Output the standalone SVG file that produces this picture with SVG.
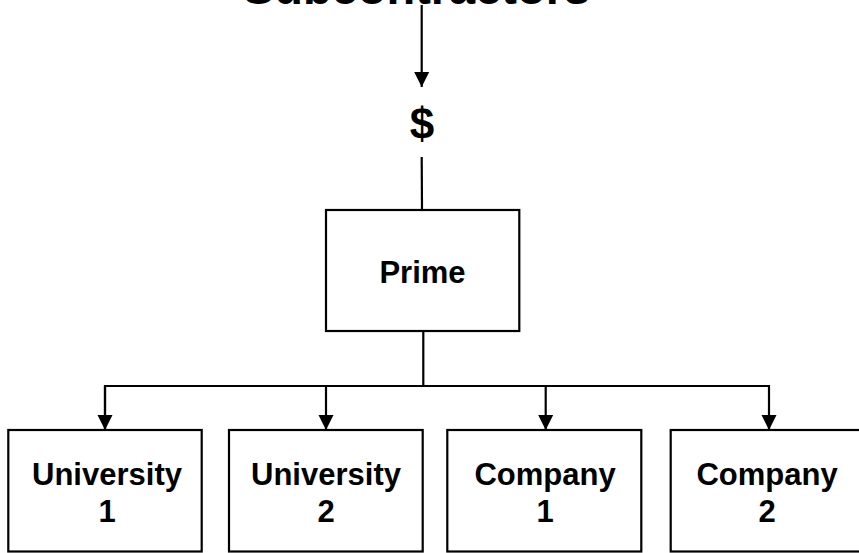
<svg xmlns="http://www.w3.org/2000/svg" width="859" height="553" viewBox="0 0 859 553">
  <style>
    .box { fill: #ffffff; stroke: #000000; stroke-width: 2.2; }
    .lbl { font-family: "Liberation Sans", Arial, sans-serif; font-weight: bold; fill: #000000; text-anchor: middle; }
    .wire { fill: none; stroke: #000000; stroke-width: 2.2; }
  </style>
  <defs>
    <marker id="arrow" markerUnits="userSpaceOnUse" markerWidth="16" markerHeight="16" viewBox="0 0 16 16" refX="15" refY="8" orient="auto">
      <path d="M0,0.5 L15,8 L0,15.5 Z" fill="#000000"/>
    </marker>
  </defs>

  <rect width="859" height="553" fill="#ffffff"/>

  <!-- heading, clipped by the top edge -->
  <text class="lbl" x="416.5" y="4" font-size="47">Subcontractors</text>

  <!-- funding symbol -->
  <text class="lbl" x="422" y="139" font-size="44">$</text>

  <g id="connectors">
    <line class="wire" x1="421.7" y1="5" x2="421.7" y2="87" marker-end="url(#arrow)"/>
    <line class="wire" x1="421.7" y1="157" x2="422" y2="210"/>
    <line class="wire" x1="423.3" y1="331" x2="423.3" y2="386"/>
    <polyline class="wire" points="105,430 105,386 769,386 769,430" marker-end="url(#arrow)"/>
    <line class="wire" x1="105" y1="386" x2="105" y2="430" marker-end="url(#arrow)"/>
    <line class="wire" x1="326" y1="386" x2="326" y2="430" marker-end="url(#arrow)"/>
    <line class="wire" x1="545.7" y1="386" x2="545.7" y2="430" marker-end="url(#arrow)"/>
  </g>

  <g id="prime">
    <rect class="box" x="326" y="210" width="193.3" height="121"/>
    <text class="lbl" x="422.5" y="283.3" font-size="31">Prime</text>
  </g>

  <g id="university1">
    <rect class="box" x="8.3" y="430" width="193.4" height="121.5"/>
    <text class="lbl" x="107" y="485" font-size="31">University</text>
    <text class="lbl" x="107" y="522" font-size="31">1</text>
  </g>

  <g id="university2">
    <rect class="box" x="229" y="430" width="193.7" height="121.5"/>
    <text class="lbl" x="326" y="485" font-size="31">University</text>
    <text class="lbl" x="326" y="522" font-size="31">2</text>
  </g>

  <g id="company1">
    <rect class="box" x="447.3" y="430" width="194" height="121.5"/>
    <text class="lbl" x="545" y="485" font-size="31">Company</text>
    <text class="lbl" x="545" y="522" font-size="31">1</text>
  </g>

  <g id="company2">
    <rect class="box" x="670.7" y="430" width="192" height="121.5"/>
    <text class="lbl" x="767" y="485" font-size="31">Company</text>
    <text class="lbl" x="767" y="522" font-size="31">2</text>
  </g>
</svg>
